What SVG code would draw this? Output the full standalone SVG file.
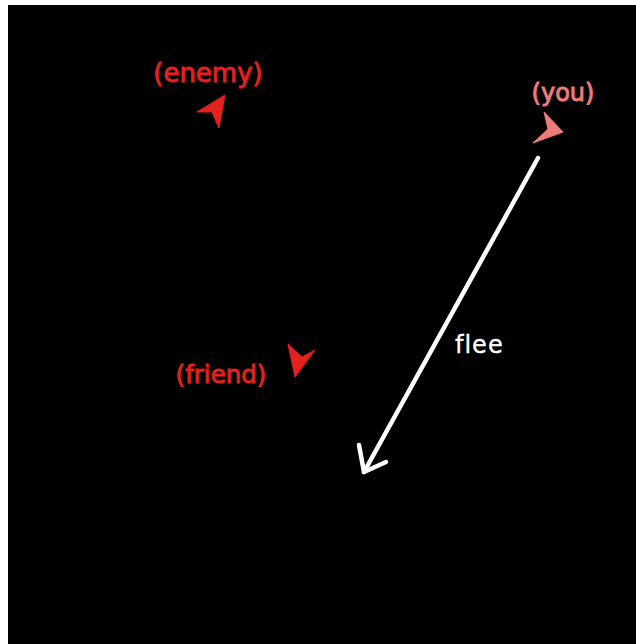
<svg xmlns="http://www.w3.org/2000/svg" width="636" height="644" viewBox="0 0 636 644">
<style>
.lbl{font-family:"DejaVu Sans",Verdana,sans-serif;font-weight:normal;stroke-width:0.9;}
.red{fill:#e4211f;stroke:#e4211f;}
.pink{fill:#ef7b7b;stroke:#ef7b7b;}
polygon{stroke:none;}
.flee{font-family:"DejaVu Sans",Verdana,sans-serif;fill:#ffffff;font-size:24px;letter-spacing:1px;stroke:#ffffff;stroke-width:0.3;}
.path{stroke:#ffffff;stroke-width:4.5;fill:none;stroke-linecap:round;stroke-linejoin:round;}
</style>
<rect x="0" y="0" width="636" height="644" fill="#ffffff"/>
<rect x="8" y="5" width="628" height="639" fill="#000000"/>
<g id="enemy">
<text class="lbl red" x="208" y="82" font-size="26" text-anchor="middle">(enemy)</text>
<polygon class="red" points="225,95 197,112 212,112 219,128"/>
</g>
<g id="you">
<text class="lbl pink" x="563" y="101" font-size="24" text-anchor="middle">(you)</text>
<polygon class="pink" points="563,132 544,112 548,129 533,143"/>
</g>
<g id="friend">
<text class="lbl red" x="221" y="383" font-size="24.5" text-anchor="middle">(friend)</text>
<polygon class="red" points="295,377 288,344 302,357 315,350"/>
</g>
<g id="connectors">
<path class="path" d="M538,158 L364,472"/>
<path class="path" d="M359,445 L364,472 L386,462"/>
<text class="flee" x="455" y="353">flee</text>
</g>
</svg>
